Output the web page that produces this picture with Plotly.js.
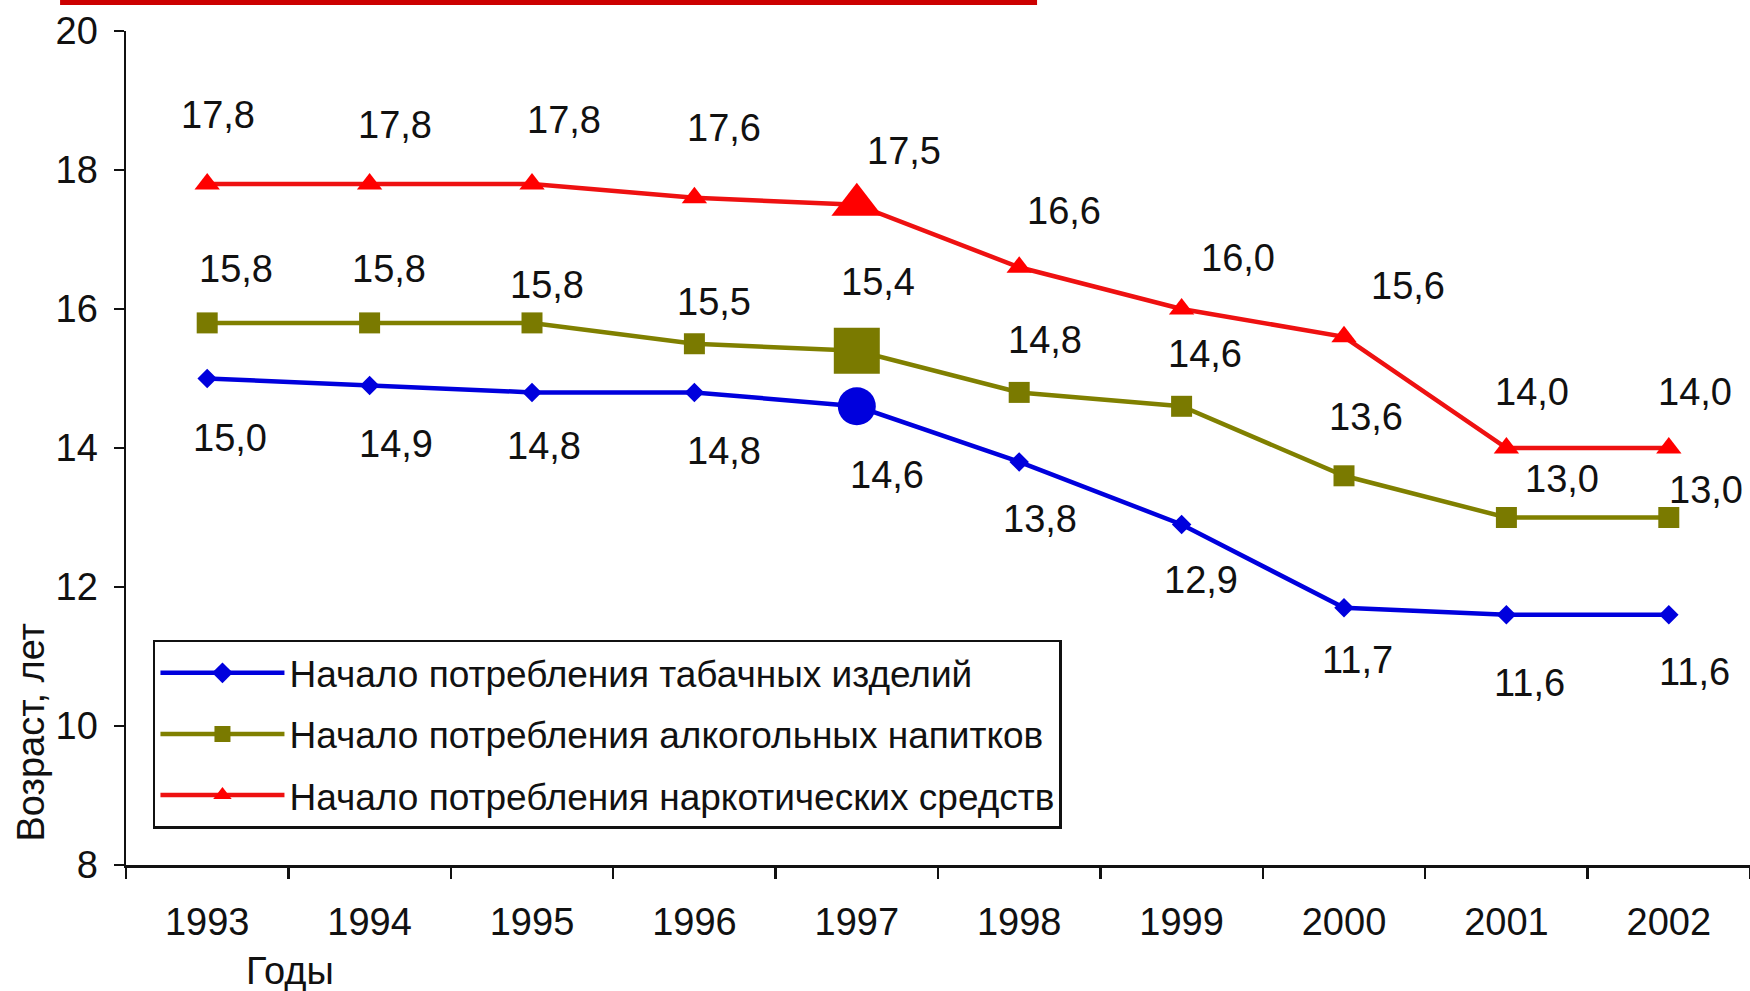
<!DOCTYPE html>
<html>
<head>
<meta charset="utf-8">
<script src="https://cdn.plot.ly/plotly-3.0.1.min.js"></script>
<style>
html,body{margin:0;padding:0;background:#fff;}
#chart{width:1750px;height:991px;}
</style>
</head>
<body>
<div id="chart"></div>
<script>
// ---- data ----
const years = ["1993","1994","1995","1996","1997","1998","1999","2000","2001","2002"];
const tobacco = [15.0, 14.9, 14.8, 14.8, 14.6, 13.8, 12.9, 11.7, 11.6, 11.6];
const alcohol = [15.8, 15.8, 15.8, 15.5, 15.4, 14.8, 14.6, 13.6, 13.0, 13.0];
const drugs   = [17.8, 17.8, 17.8, 17.6, 17.5, 16.6, 16.0, 15.6, 14.0, 14.0];
const seriesNames = [
  "Начало потребления табачных изделий",
  "Начало потребления алкогольных напитков",
  "Начало потребления наркотических средств"
];
const yTicks = [8, 10, 12, 14, 16, 18, 20];
const yTitle = "Возраст, лет";
const xTitle = "Годы";

// ---- label offsets (px) ----
const offTob = {dx:[23,26,12,30,30,21,19,13,23,26], dy:[-59,-59,-54,-59,-69,-57,-56,-52,-68,-57]};
const offAlc = {dx:[29,19,15,20,21,26,23,22,56,37], dy:[54,54,38,42,69,52,52,59,39,28]};
const offDrg = {dx:[11,25,32,30,47,45,56,64,26,26], dy:[69,59,64,70,54,56,51,51,56,56]};

const FONT = '"Liberation Sans", Arial, sans-serif';
const FS = 38;
const BLUE = '#0000dd', OLIVE = '#808000', RED = '#ff0000';

const hl = 4; // highlighted index
function sizes(base, big){ return years.map((_,i)=> i===hl ? big : base); }

const traces = [
  {x: years, y: tobacco, name: seriesNames[0], legendgroup:'a', type:'scatter', mode:'lines+markers',
   line:{color:BLUE, width:4.5},
   marker:{color:BLUE, opacity:1, size:sizes(15,38), symbol: years.map((_,i)=> i===hl ? 'circle' : 'diamond'), line:{width:0}},
   cliponaxis:false},
  {x: years, y: alcohol, name: seriesNames[1], legendgroup:'b', type:'scatter', mode:'lines+markers',
   line:{color:OLIVE, width:4.5},
   marker:{color:'#7a7a00', opacity:1, size:sizes(21,46), symbol:'square', line:{width:0}},
   cliponaxis:false},
  {x: years, y: drugs, name: seriesNames[2], legendgroup:'c', type:'scatter', mode:'lines+markers',
   line:{color:'#ee1111', width:4.5},
   marker:{color:RED, opacity:1, size:sizes(22,44), symbol:'triangle-up', line:{width:0}},
   cliponaxis:false}
];

function fmt(v){ return v.toFixed(1).replace('.', ','); }
const annotations = [];
[[tobacco, offTob],[alcohol, offAlc],[drugs, offDrg]].forEach(([vals, off])=>{
  vals.forEach((v,i)=>{
    annotations.push({x: i, y: v, xref:'x', yref:'y', text: fmt(v), showarrow:false,
      xanchor:'center', yanchor:'middle',
      xshift: off.dx[i], yshift: off.dy[i], font:{family:FONT, size:FS, color:'#111'}});
  });
});
annotations.push({xref:'paper', yref:'paper', x:-0.0585, y:0.160, text:yTitle, textangle:-90,
  xanchor:'center', yanchor:'middle',
  showarrow:false, font:{family:FONT, size:FS, color:'#111'}});
annotations.push({xref:'paper', yref:'paper', x:0.101,  y:-0.127, text:xTitle,
  xanchor:'center', yanchor:'middle',
  showarrow:false, font:{family:FONT, size:FS, color:'#111'}});

const layout = {
  width:1750, height:991,
  margin:{l:126, r:0, t:31, b:126, pad:0},
  paper_bgcolor:'#fff', plot_bgcolor:'#fff',
  showlegend:true,
  legend:{x:0.0166, y:0.27, xanchor:'left', yanchor:'top', bgcolor:'#fff',
    bordercolor:'#111', borderwidth:2.5, font:{family:FONT, size:37, color:'#111'},
    tracegroupgap:10, itemwidth:124, traceorder:'grouped'},
  xaxis:{type:'category', range:[-0.5, 9.5], showline:true, linecolor:'#111', linewidth:2.5,
    ticks:'outside', tickson:'boundaries', ticklen:11, tickwidth:2.5, tickcolor:'#111',
    showgrid:false, zeroline:false, fixedrange:true, ticklabelstandoff:22,
    tickfont:{family:FONT, size:FS, color:'#111'}},
  yaxis:{range:[8,20], tickvals:yTicks, showline:true, linecolor:'#111', linewidth:2.5,
    ticks:'outside', ticklen:10, tickwidth:2.5, tickcolor:'#111',
    showgrid:false, zeroline:false, fixedrange:true, ticklabelstandoff:8,
    tickfont:{family:FONT, size:FS, color:'#111'}},
  shapes:[{type:'rect', xref:'paper', yref:'paper', x0:-0.0406, x1:0.561, y0:1.0312, y1:1.04,
    fillcolor:'#cc0000', line:{width:0}, layer:'above'}],
  annotations: annotations
};

Plotly.newPlot('chart', traces, layout, {displayModeBar:false, staticPlot:true});
</script>
</body>
</html>
